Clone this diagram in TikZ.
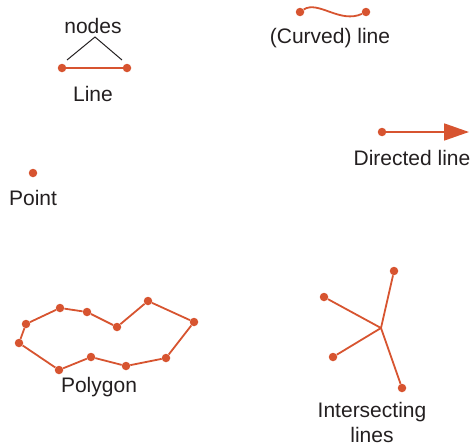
\documentclass[tikz,border=0pt]{standalone}
\usepackage{fontspec}
\setmainfont{Liberation Sans}
\usepackage{tikz}
\usetikzlibrary{arrows.meta, positioning}
\definecolor{edgered}{RGB}{215,84,48}
\definecolor{labelgray}{RGB}{35,31,32}

\begin{document}
\begin{tikzpicture}[
  x=1pt, y=-1pt,
  dot/.style={circle, fill=edgered, inner sep=0pt, minimum size=8.5pt},
  lbl/.style={font=\fontsize{21}{25}\selectfont, text=labelgray, align=center, inner sep=0pt},
  seg/.style={draw=edgered, line width=1.8pt},
  arr/.style={seg, -{Triangle[length=25pt, width=17pt]}}
]
\useasboundingbox (0,0) rectangle (472,447);
% line with its two nodes
\node[dot] (la) at (62,68) {};
\node[dot] (lb) at (127,68) {};
\draw[seg] (la) -- (lb);
\node[lbl] (linetxt) at (93,94) {Line};
\node[lbl] (nodestxt) at (93,26) {nodes};
\coordinate (tl) at (67,60);
\coordinate (tr) at (122,60);
\draw[labelgray, line width=1pt] (tl) -- (95,37) -- (tr);
% curved line
\node[dot] (ca) at (300,12) {};
\node[dot] (cb) at (366,12) {};
\draw[seg] (ca) .. controls (318,0) and (340,24) .. (cb);
\node[lbl] (curvetxt) at (330,38) {(Curved) line};
% directed line
\node[dot] (da) at (382,132) {};
\coordinate (db) at (469,132);
\draw[arr] (da) -- (db);
\node[lbl] (dirtxt) at (412,158) {Directed line};
% point
\node[dot] (pt) at (33,173) {};
\node[lbl] (pttxt) at (33,198) {Point};
% polygon
\node[dot] (p1)  at (26,324) {};
\node[dot] (p2)  at (60,308) {};
\node[dot] (p3)  at (87,312) {};
\node[dot] (p4)  at (117,327) {};
\node[dot] (p5)  at (148,301) {};
\node[dot] (p6)  at (194,322) {};
\node[dot] (p7)  at (166,358) {};
\node[dot] (p8)  at (126,366) {};
\node[dot] (p9)  at (91,357) {};
\node[dot] (p10) at (59,370) {};
\node[dot] (p11) at (19,343) {};
\draw[seg] (p1) -- (p2) -- (p3) -- (p4) -- (p5) -- (p6) -- (p7) -- (p8) -- (p9) -- (p10) -- (p11) -- (p1);
\node[lbl] (polytxt) at (99,387) {Polygon};
% intersecting lines
\coordinate (x0) at (381,328);
\node[dot] (xa) at (394,271) {};
\node[dot] (xb) at (324,297) {};
\node[dot] (xc) at (333,357) {};
\node[dot] (xd) at (402,388) {};
\draw[seg] (xb) -- (x0) -- (xd);
\draw[seg] (xc) -- (x0) -- (xa);
\node[lbl] (intxt) at (372,422) {Intersecting\\lines};
\end{tikzpicture}
\end{document}
